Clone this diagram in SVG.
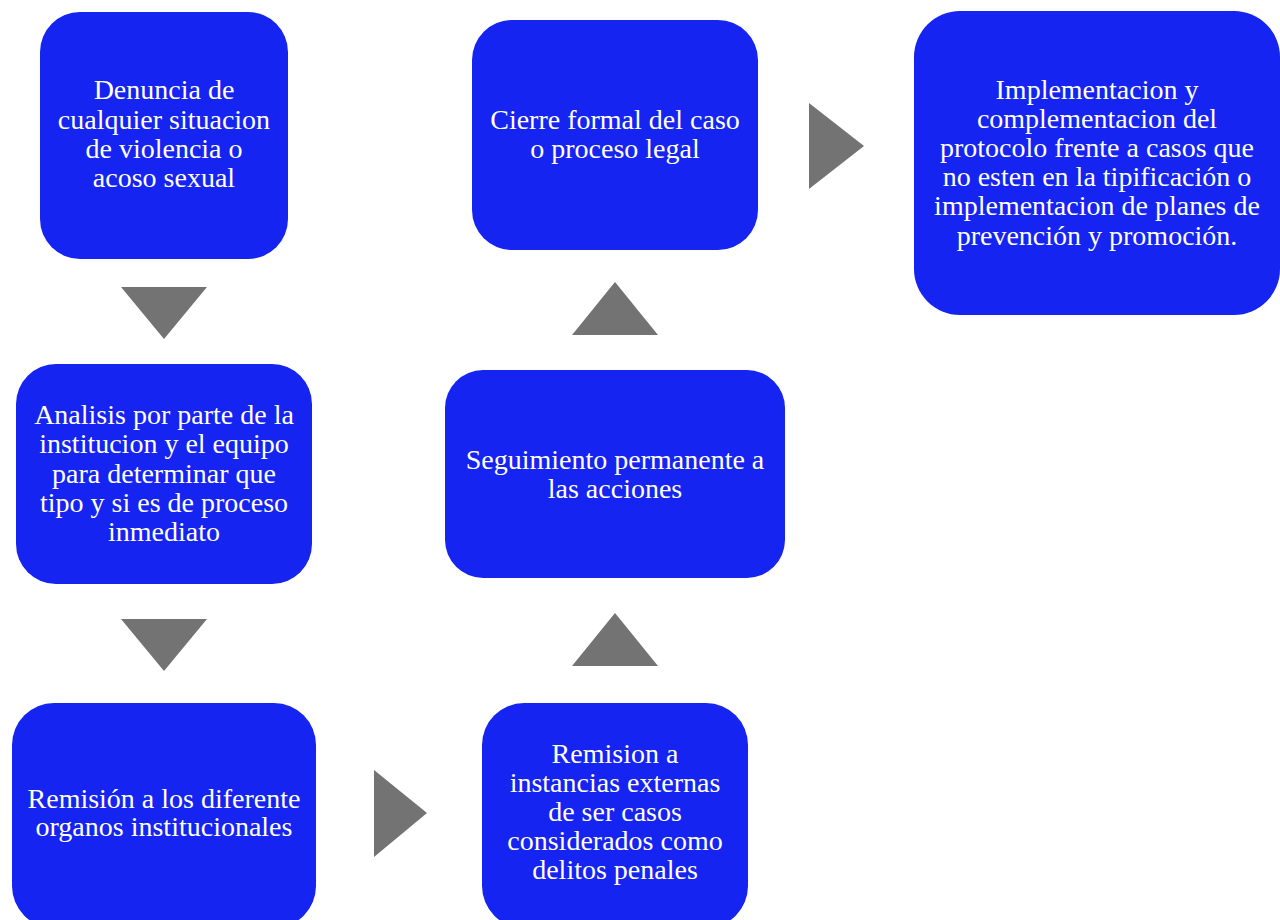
<svg xmlns="http://www.w3.org/2000/svg" width="1280" height="920" viewBox="0 0 1280 920">
<style>
.box{fill:#1624F2}
.t{fill:#FFFFFF;font-family:"Liberation Serif","Times New Roman",serif;font-size:28px;text-anchor:middle}
.arr{fill:#737373}
</style>
<rect width="1280" height="920" fill="#FFFFFF"/>
<g id="n1"><rect class="box" x="40" y="12" width="248" height="247" rx="40"/>
<text class="t"><tspan x="164" y="99">Denuncia de</tspan><tspan x="164" y="129">cualquier situacion</tspan><tspan x="164" y="158">de violencia o</tspan><tspan x="164" y="187">acoso sexual</tspan></text></g>
<g id="n2"><rect class="box" x="16" y="364" width="296" height="220" rx="40"/>
<text class="t"><tspan x="164" y="424">Analisis por parte de la</tspan><tspan x="164" y="453">institucion y el equipo</tspan><tspan x="164" y="483">para determinar que</tspan><tspan x="164" y="512">tipo y si es de proceso</tspan><tspan x="164" y="541">inmediato</tspan></text></g>
<g id="n3"><rect class="box" x="12" y="703" width="304" height="225" rx="42"/>
<text class="t"><tspan x="164" y="808">Remisión a los diferente</tspan><tspan x="164" y="836">organos institucionales</tspan></text></g>
<g id="n4"><rect class="box" x="482" y="703" width="266" height="225" rx="42"/>
<text class="t"><tspan x="615" y="763">Remision a</tspan><tspan x="615" y="792">instancias externas</tspan><tspan x="615" y="821">de ser casos</tspan><tspan x="615" y="850">considerados como</tspan><tspan x="615" y="879">delitos penales</tspan></text></g>
<g id="n5"><rect class="box" x="445" y="370" width="340" height="208" rx="38"/>
<text class="t"><tspan x="615" y="469">Seguimiento permanente a</tspan><tspan x="615" y="498">las acciones</tspan></text></g>
<g id="n6"><rect class="box" x="472" y="20" width="286" height="230" rx="40"/>
<text class="t"><tspan x="615" y="129">Cierre formal del caso</tspan><tspan x="615" y="158">o proceso legal</tspan></text></g>
<g id="n7"><rect class="box" x="914" y="11" width="366" height="304" rx="46"/>
<text class="t"><tspan x="1097" y="99">Implementacion y</tspan><tspan x="1097" y="128">complementacion del</tspan><tspan x="1097" y="157">protocolo frente a casos que</tspan><tspan x="1097" y="186">no esten en la tipificación o</tspan><tspan x="1097" y="215">implementacion de planes de</tspan><tspan x="1097" y="245">prevención y promoción.</tspan></text></g>
<g id="connectors">
<polygon class="arr" points="121,287 207,287 164,339"/>
<polygon class="arr" points="121,619 207,619 164,671"/>
<polygon class="arr" points="374,770 374,857 427,813"/>
<polygon class="arr" points="572,666 658,666 615,613"/>
<polygon class="arr" points="572,335 658,335 615,282"/>
<polygon class="arr" points="809,103 809,189 864,146"/>
</g>
</svg>
